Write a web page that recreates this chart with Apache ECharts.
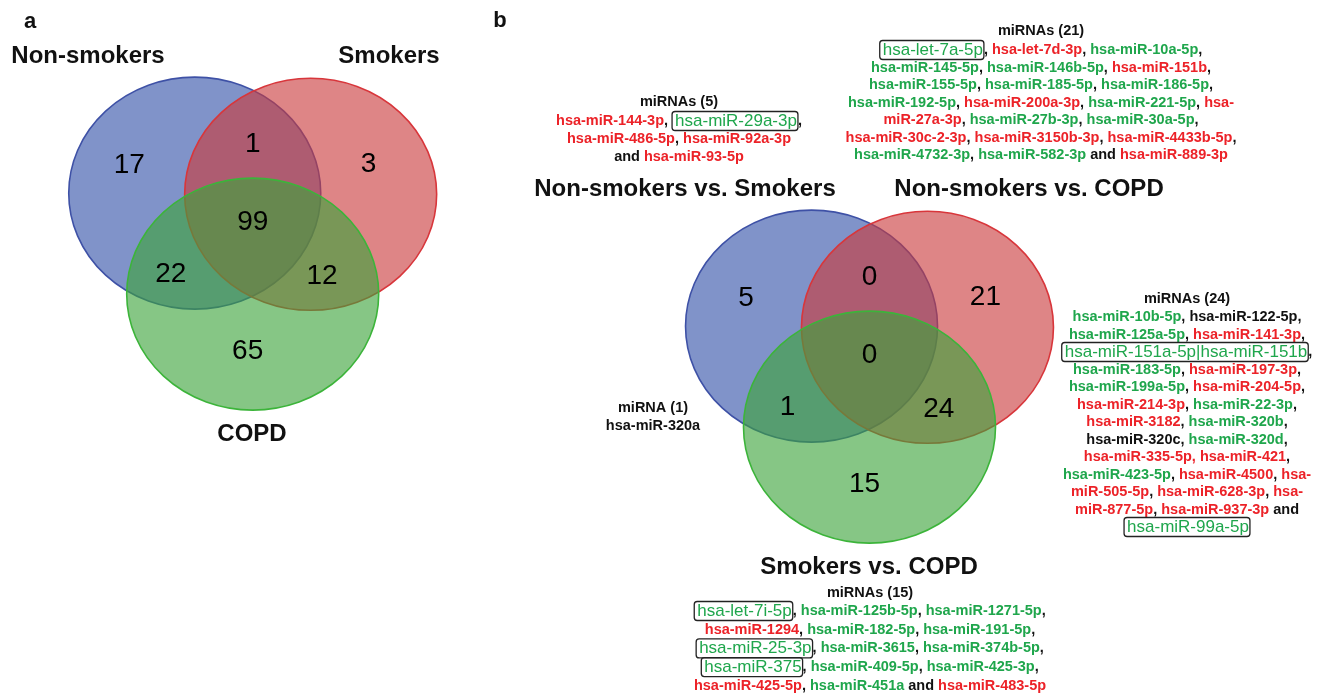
<!DOCTYPE html>
<html>
<head>
<meta charset="utf-8">
<script src="https://cdn.jsdelivr.net/npm/echarts@6/dist/echarts.min.js"></script>
<style>
html,body{margin:0;padding:0;background:#fff;}
#chart{width:1321px;height:695px;}
</style>
</head>
<body>
<div id="chart"></div>
<script>
// ---------------- DATA ----------------
// region order: [A only, A∩B, B only, A∩B∩C, A∩C, B∩C, C only]
const setNamesA = ['Non-smokers', 'Smokers', 'COPD'];
const countsA = [17, 1, 3, 99, 22, 12, 65];
const setNamesB = ['Non-smokers vs. Smokers', 'Non-smokers vs. COPD', 'Smokers vs. COPD'];
const countsB = [5, 0, 21, 0, 1, 24, 15];

const headerNSvsS = 'miRNAs (5)';
const listNSvsS = [
  '{r|hsa-miR-144-3p}{k|, }{G|hsa-miR-29a-3p}{k|,}',
  '{r|hsa-miR-486-5p}{k|, }{r|hsa-miR-92a-3p}',
  '{k|and }{r|hsa-miR-93-5p}'
];
const headerNSvsCOPD = 'miRNAs (21)';
const listNSvsCOPD = [
  '{G|hsa-let-7a-5p}{k|, }{r|hsa-let-7d-3p}{k|, }{g|hsa-miR-10a-5p}{k|,}',
  '{g|hsa-miR-145-5p}{k|, }{g|hsa-miR-146b-5p}{k|, }{r|hsa-miR-151b}{k|,}',
  '{g|hsa-miR-155-5p}{k|, }{g|hsa-miR-185-5p}{k|, }{g|hsa-miR-186-5p}{k|,}',
  '{g|hsa-miR-192-5p}{k|, }{r|hsa-miR-200a-3p}{k|, }{g|hsa-miR-221-5p}{k|, }{r|hsa-}',
  '{r|miR-27a-3p}{k|, }{g|hsa-miR-27b-3p}{k|, }{g|hsa-miR-30a-5p}{k|,}',
  '{r|hsa-miR-30c-2-3p}{k|, }{r|hsa-miR-3150b-3p}{k|, }{r|hsa-miR-4433b-5p}{k|,}',
  '{g|hsa-miR-4732-3p}{k|, }{g|hsa-miR-582-3p}{k| and }{r|hsa-miR-889-3p}'
];
const headerShared = 'miRNAs (24)';
const listShared = [
  '{g|hsa-miR-10b-5p}{k|, hsa-miR-122-5p,}',
  '{g|hsa-miR-125a-5p}{k|, }{r|hsa-miR-141-3p}{k|,}',
  '{G|hsa-miR-151a-5p|hsa-miR-151b}{k|,}',
  '{g|hsa-miR-183-5p}{k|, }{r|hsa-miR-197-3p}{k|,}',
  '{g|hsa-miR-199a-5p}{k|, }{r|hsa-miR-204-5p}{k|,}',
  '{r|hsa-miR-214-3p}{k|, }{g|hsa-miR-22-3p}{k|,}',
  '{r|hsa-miR-3182}{k|, }{g|hsa-miR-320b}{k|,}',
  '{k|hsa-miR-320c, }{g|hsa-miR-320d}{k|,}',
  '{r|hsa-miR-335-5p, hsa-miR-421}{k|,}',
  '{g|hsa-miR-423-5p}{k|, }{r|hsa-miR-4500}{k|, }{r|hsa-}',
  '{r|miR-505-5p}{k|, }{r|hsa-miR-628-3p}{k|, }{r|hsa-}',
  '{r|miR-877-5p}{k|, }{r|hsa-miR-937-3p}{k| and}',
  '{G|hsa-miR-99a-5p}'
];
const headerSvsCOPD = 'miRNAs (15)';
const listSvsCOPD = [
  '{G|hsa-let-7i-5p}{k|, }{g|hsa-miR-125b-5p}{k|, }{g|hsa-miR-1271-5p}{k|,}',
  '{r|hsa-miR-1294}{k|, }{g|hsa-miR-182-5p}{k|, }{g|hsa-miR-191-5p}{k|,}',
  '{G|hsa-miR-25-3p}{k|, }{g|hsa-miR-3615}{k|, }{g|hsa-miR-374b-5p}{k|,}',
  '{G|hsa-miR-375}{k|, }{g|hsa-miR-409-5p}{k|, }{g|hsa-miR-425-3p}{k|,}',
  '{r|hsa-miR-425-5p}{k|, }{g|hsa-miR-451a}{k| and }{r|hsa-miR-483-5p}'
];
const headerOne = 'miRNA (1)';
const listOne = ['{k|hsa-miR-320a}'];

// ---------------- LAYOUT / STYLE ----------------
const FONT = '"Liberation Sans", Arial, Helvetica, sans-serif';
const RED = '#ec2228', GREEN = '#1fa64c', BLACK = '#111';
const setCenters = [[-0.46, 0.29], [0.46, 0.28], [0, -0.58]];   // venn layout in radius units
const regionPos = [[-0.98, 0.53], [0, 0.71], [0.92, 0.54], [0, 0.04], [-0.65, -0.41], [0.55, -0.43], [-0.04, -1.07]];
const setFill = ['rgba(50,80,168,0.62)', 'rgba(202,58,60,0.62)', 'rgba(60,163,58,0.62)'];
const setStroke = ['#3e51a6', '#d8363b', '#3cb43a'];
const RX = 126, RY = 116, SPAN = 1.9;
const panels = [{ox: 252.7, oy: 226.8}, {ox: 869.5, oy: 359.8}];

function rs(color, weight, size) {
  return {fill: color, color: color, fontFamily: FONT, fontWeight: weight, fontSize: size, lineHeight: 18};
}
const rich = {
  k: rs(BLACK, 'bold', 14.5),
  r: rs(RED, 'bold', 14.5),
  g: rs(GREEN, 'bold', 14.5),
  G: Object.assign(rs(GREEN, 'normal', 17), {borderColor: '#222', borderWidth: 1.3, borderRadius: 3, padding: [1, 1, 1, 3]})
};

function textEl(x, y, text, font, color, useRich) {
  const st = {text: text, fill: color, font: font, textAlign: 'center', textVerticalAlign: 'middle',
              align: 'center', verticalAlign: 'middle'};
  if (useRich) st.rich = rich;
  return {type: 'text', x: x, y: y, silent: true, style: st};
}
function block(cx, hy, y0, gap, header, lines) {
  const els = [textEl(cx, hy, header, 'bold 14.5px ' + FONT, BLACK, false)];
  lines.forEach((ln, i) => els.push(textEl(cx, y0 + gap * i, ln, 'bold 14.5px ' + FONT, BLACK, true)));
  return els;
}

const titleFont = 'bold 24px ' + FONT;
const graphics = [
  textEl(30, 22, 'a', 'bold 22px ' + FONT, BLACK),
  textEl(500, 21, 'b', 'bold 22px ' + FONT, BLACK),
  textEl(88, 56, setNamesA[0], titleFont, BLACK),
  textEl(389, 56, setNamesA[1], titleFont, BLACK),
  textEl(252, 434, setNamesA[2], titleFont, BLACK),
  textEl(685, 189, setNamesB[0], titleFont, BLACK),
  textEl(1029, 189, setNamesB[1], titleFont, BLACK),
  textEl(869, 567, setNamesB[2], titleFont, BLACK)
].concat(
  block(679, 102, 121, 18, headerNSvsS, listNSvsS),
  block(1041, 31, 50, 17.5, headerNSvsCOPD, listNSvsCOPD),
  block(1187, 299, 317, 17.5, headerShared, listShared),
  block(870, 593, 611, 18.7, headerSvsCOPD, listSvsCOPD),
  block(653, 408, 426, 18, headerOne, listOne)
);

// ---------------- CHART ----------------
const grids = panels.map(p => ({
  left: p.ox - SPAN * RX, top: p.oy - SPAN * RY, width: 2 * SPAN * RX, height: 2 * SPAN * RY
}));
const xAxes = panels.map((p, i) => ({type: 'value', gridIndex: i, min: -SPAN, max: SPAN, show: false}));
const yAxes = panels.map((p, i) => ({type: 'value', gridIndex: i, min: -SPAN, max: SPAN, show: false}));

function ellipseSeries(i) {
  return {
    type: 'custom', xAxisIndex: i, yAxisIndex: i, silent: true,
    data: setCenters.map((c, k) => [c[0], c[1], k]),
    renderItem: function (params, api) {
      const c = api.coord([api.value(0), api.value(1)]);
      const o = api.coord([0, 0]), e = api.coord([1, 1]);
      const rx = Math.abs(e[0] - o[0]), ry = Math.abs(e[1] - o[1]);
      const k = api.value(2);
      const d = 'M' + (c[0] - rx) + ' ' + c[1] +
        ' A' + rx + ' ' + ry + ' 0 1 0 ' + (c[0] + rx) + ' ' + c[1] +
        ' A' + rx + ' ' + ry + ' 0 1 0 ' + (c[0] - rx) + ' ' + c[1] + ' Z';
      return {type: 'path', shape: {pathData: d},
              style: {fill: setFill[k], stroke: setStroke[k], lineWidth: 1.6}};
    }
  };
}
function countSeries(i, counts) {
  return {
    type: 'custom', xAxisIndex: i, yAxisIndex: i, silent: true, z: 5,
    data: regionPos.map((p, k) => [p[0], p[1], counts[k]]),
    renderItem: function (params, api) {
      const c = api.coord([api.value(0), api.value(1)]);
      return {type: 'text', x: c[0], y: c[1],
              style: {text: String(api.value(2)), font: '28px ' + FONT, fill: '#000',
                      textAlign: 'center', textVerticalAlign: 'middle', align: 'center', verticalAlign: 'middle'}};
    }
  };
}

const chart = echarts.init(document.getElementById('chart'), null, {renderer: 'canvas'});
chart.setOption({
  backgroundColor: '#fff',
  animation: false,
  grid: grids,
  xAxis: xAxes,
  yAxis: yAxes,
  series: [ellipseSeries(0), countSeries(0, countsA), ellipseSeries(1), countSeries(1, countsB)],
  graphic: {elements: graphics}
});
</script>
</body>
</html>
